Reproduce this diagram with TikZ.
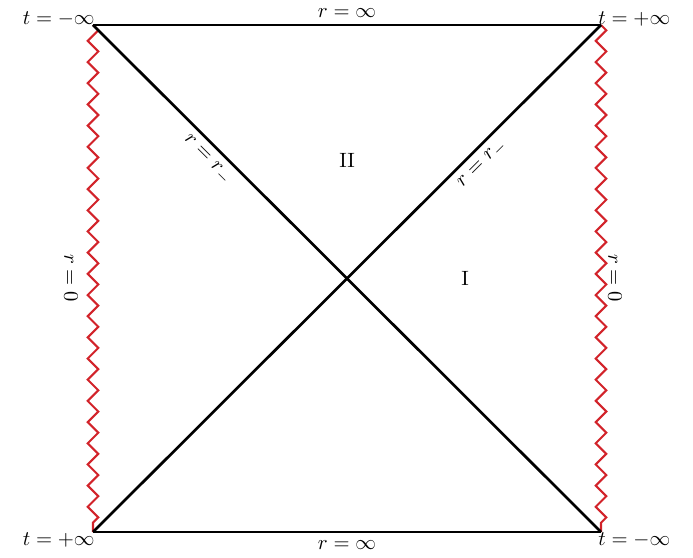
\documentclass[tikz,border=0pt]{standalone}
\usepackage{amsmath}
\usepackage{tikz}
\usepackage{xcolor}
\usetikzlibrary{decorations.pathmorphing}
\definecolor{SingRed}{HTML}{D2232A}
\tikzset{
  horizon/.style={line width=1.3pt},
  sing/.style={SingRed,line width=1pt,decorate,
    decoration={zigzag,segment length=0.36cm,amplitude=0.09cm}},
  tlabel/.style={inner sep=0pt}
}

\begin{document}
\begin{tikzpicture}[x=0.017cm,y=-0.017cm]
  \useasboundingbox (0,0) rectangle (693,558);
  % corners of the diagram
  \coordinate (tl) at (93,25);
  \coordinate (tr) at (601,25);
  \coordinate (bl) at (93,532);
  \coordinate (br) at (601,532);
  % singularities
  \draw[sing] (tl) -- (bl);
  \draw[sing] (tr) -- (br);
  \node[rotate=-90] (rzeroL) at (71,278) {$r=0$};
  \node[rotate=-90] (rzeroR) at (615,278) {$r=0$};
  % boundaries and horizons
  \draw[horizon] (tl) -- node[above,inner sep=2.8pt] (rinfT) {$r=\infty$} (tr);
  \draw[horizon] (bl) -- node[below] (rinfB) {$r=\infty$} (br);
  \draw[horizon] (tl) -- node[pos=0.245,below,sloped] (hzL) {$r=r_-$} (br);
  \draw[horizon] (bl) -- node[pos=0.746,below,sloped] (hzR) {$r=r_-$} (tr);
  % regions
  \node (regII) at (347,160) {II};
  \node (regI) at (465,278) {I};
  % corner labels
  \node[tlabel,anchor=base east] (tTL) at (95,25) {$t=-\infty$};
  \node[tlabel,anchor=base west] (tTR) at (598,25) {$t=+\infty$};
  \node[tlabel,anchor=north east] (tBL) at (95,532) {$t=+\infty$};
  \node[tlabel,anchor=north west] (tBR) at (598,532) {$t=-\infty$};
\end{tikzpicture}
\end{document}
